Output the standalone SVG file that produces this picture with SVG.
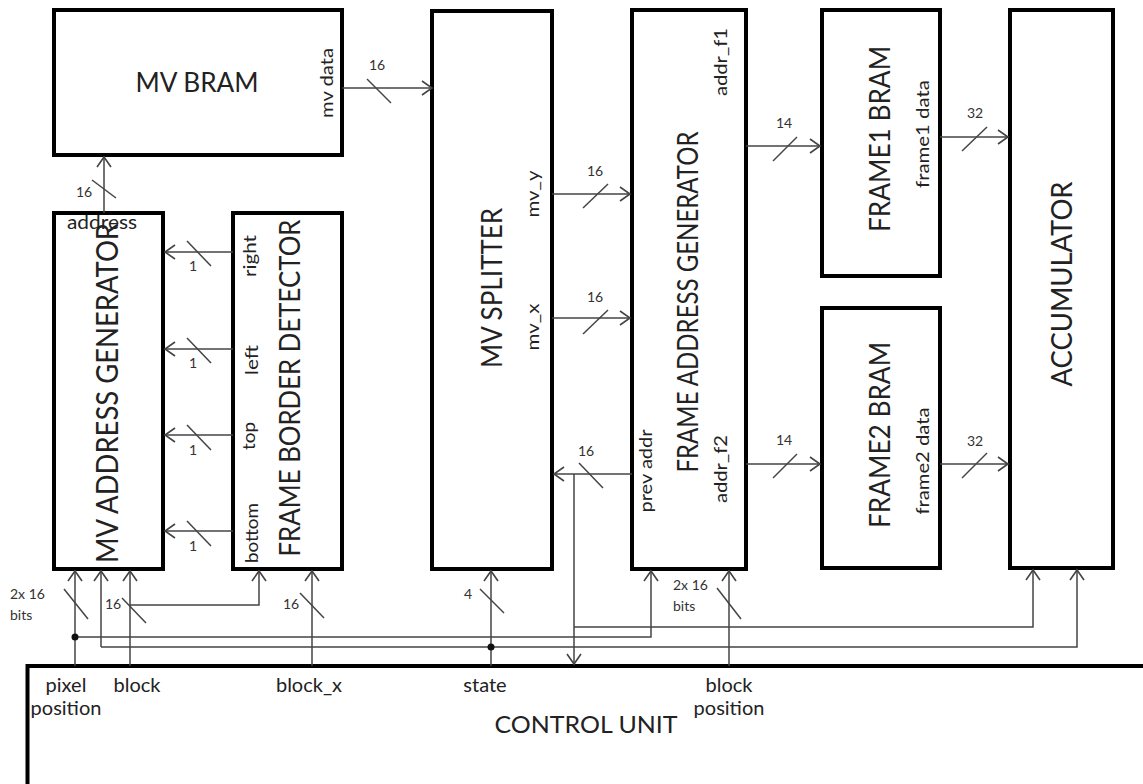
<svg xmlns="http://www.w3.org/2000/svg" width="1143" height="784" viewBox="0 0 1143 784">
<defs>
<marker id="arr" markerUnits="userSpaceOnUse" markerWidth="14" markerHeight="16" refX="11" refY="7" orient="auto" overflow="visible">
<path d="M1,0 L11,7 L1,14" fill="none" stroke="#444" stroke-width="1.6"/>
</marker>
</defs>
<style>
.box{fill:#fff;stroke:#000;stroke-width:4}
.c{fill:none;stroke:#444;stroke-width:1.5}
.s{stroke:#444;stroke-width:1.5}
.t{font-family:Lato,"Liberation Sans",Arial,sans-serif;fill:#222}
.big{font-size:28px}
.lbl{font-size:18px}
.n{font-family:Lato,"Liberation Sans",Arial,sans-serif;font-size:14px;fill:#333}
.m{text-anchor:middle}
</style>
<rect width="1143" height="784" fill="#fff"/>

<g id="mv-bram">
<rect class="box" x="54" y="10" width="288" height="145"/>
<text class="t m" x="197" y="92" font-size="26" textLength="123" lengthAdjust="spacingAndGlyphs">MV BRAM</text>
<text class="t m lbl" transform="translate(333,83) rotate(-90)" font-size="17" textLength="70" lengthAdjust="spacingAndGlyphs">mv data</text>
</g>

<g id="mv-address-generator">
<rect class="box" x="54" y="213" width="109" height="356"/>
<text class="t m" transform="translate(118,393) rotate(-90)" font-size="31" textLength="340" lengthAdjust="spacingAndGlyphs">MV ADDRESS GENERATOR</text>
<text class="t" x="67" y="229" font-size="19" textLength="70" lengthAdjust="spacingAndGlyphs">address</text>
</g>

<g id="frame-border-detector">
<rect class="box" x="233" y="213" width="109" height="356"/>
<text class="t m big" transform="translate(300,388) rotate(-90)" textLength="337" lengthAdjust="spacingAndGlyphs">FRAME BORDER DETECTOR</text>
<text class="t m lbl" transform="translate(256,256) rotate(-90)" textLength="42" lengthAdjust="spacingAndGlyphs">right</text>
<text class="t m lbl" transform="translate(258,360) rotate(-90)" textLength="30" lengthAdjust="spacingAndGlyphs">left</text>
<text class="t m lbl" transform="translate(255,436) rotate(-90)" textLength="28" lengthAdjust="spacingAndGlyphs">top</text>
<text class="t m lbl" transform="translate(258,533) rotate(-90)" textLength="60" lengthAdjust="spacingAndGlyphs">bottom</text>
</g>

<g id="mv-splitter">
<rect class="box" x="432" y="11" width="120" height="558"/>
<text class="t m big" transform="translate(502,288) rotate(-90)" textLength="160" lengthAdjust="spacingAndGlyphs">MV SPLITTER</text>
<text class="t m lbl" transform="translate(539,194) rotate(-90)" textLength="47" lengthAdjust="spacingAndGlyphs">mv_y</text>
<text class="t m lbl" transform="translate(539,327) rotate(-90)" textLength="47" lengthAdjust="spacingAndGlyphs">mv_x</text>
</g>

<g id="frame-address-generator">
<rect class="box" x="632" y="10" width="114" height="559"/>
<text class="t m big" transform="translate(698,302) rotate(-90)" textLength="341" lengthAdjust="spacingAndGlyphs">FRAME ADDRESS GENERATOR</text>
<text class="t m lbl" transform="translate(652,471) rotate(-90)" textLength="83" lengthAdjust="spacingAndGlyphs">prev addr</text>
<text class="t m lbl" transform="translate(727,62) rotate(-90)" textLength="68" lengthAdjust="spacingAndGlyphs">addr_f1</text>
<text class="t m lbl" transform="translate(727,469) rotate(-90)" textLength="68" lengthAdjust="spacingAndGlyphs">addr_f2</text>
</g>

<g id="frame1-bram">
<rect class="box" x="822" y="10" width="118" height="266"/>
<text class="t m big" transform="translate(890,139) rotate(-90)" textLength="186" lengthAdjust="spacingAndGlyphs">FRAME1 BRAM</text>
<text class="t m lbl" transform="translate(929,134) rotate(-90)" textLength="108" lengthAdjust="spacingAndGlyphs">frame1 data</text>
</g>

<g id="frame2-bram">
<rect class="box" x="822" y="308" width="118" height="260"/>
<text class="t m big" transform="translate(890,435) rotate(-90)" textLength="186" lengthAdjust="spacingAndGlyphs">FRAME2 BRAM</text>
<text class="t m lbl" transform="translate(929,461) rotate(-90)" textLength="107" lengthAdjust="spacingAndGlyphs">frame2 data</text>
</g>

<g id="accumulator">
<rect class="box" x="1010" y="10" width="103" height="558"/>
<text class="t m big" transform="translate(1072,284) rotate(-90)" textLength="205" lengthAdjust="spacingAndGlyphs">ACCUMULATOR</text>
</g>

<g id="control-unit">
<path class="box" d="M27.5,790 V666 H1150" fill="none"/>
<text class="t m" x="586" y="733" font-size="24" textLength="183" lengthAdjust="spacingAndGlyphs">CONTROL UNIT</text>
<text class="t m" x="66" y="692" font-size="20">pixel</text>
<text class="t m" x="66" y="715" font-size="20">position</text>
<text class="t m" x="137" y="692" font-size="20">block</text>
<text class="t m" x="309" y="692" font-size="20">block_x</text>
<text class="t m" x="485" y="692" font-size="20">state</text>
<text class="t m" x="729" y="692" font-size="20">block</text>
<text class="t m" x="729" y="715" font-size="20">position</text>
</g>

<g id="connectors">
<!-- mv data -->
<path class="c" d="M342,88 H432" marker-end="url(#arr)"/>
<line class="s" x1="367" y1="79" x2="391" y2="103"/>
<text class="n m" x="377" y="70">16</text>
<!-- address -->
<path class="c" d="M104,213 V157" marker-end="url(#arr)"/>
<line class="s" x1="92" y1="180" x2="116" y2="198"/>
<text class="n m" x="84" y="197">16</text>
<!-- border signals -->
<path class="c" d="M233,252 H165" marker-end="url(#arr)"/>
<line class="s" x1="187" y1="241" x2="211" y2="266"/>
<text class="n m" x="193" y="271">1</text>
<path class="c" d="M233,349 H165" marker-end="url(#arr)"/>
<line class="s" x1="187" y1="338" x2="211" y2="363"/>
<text class="n m" x="193" y="368">1</text>
<path class="c" d="M233,435 H165" marker-end="url(#arr)"/>
<line class="s" x1="187" y1="425" x2="211" y2="450"/>
<text class="n m" x="193" y="455">1</text>
<path class="c" d="M233,531 H165" marker-end="url(#arr)"/>
<line class="s" x1="187" y1="521" x2="211" y2="546"/>
<text class="n m" x="193" y="551">1</text>
<!-- mv_y / mv_x -->
<path class="c" d="M552,194 H630" marker-end="url(#arr)"/>
<line class="s" x1="583" y1="208" x2="608" y2="184"/>
<text class="n m" x="595" y="176">16</text>
<path class="c" d="M552,318 H630" marker-end="url(#arr)"/>
<line class="s" x1="583" y1="334" x2="608" y2="310"/>
<text class="n m" x="595" y="302">16</text>
<!-- prev addr -->
<path class="c" d="M632,474 H554" marker-end="url(#arr)"/>
<path class="c" d="M574,474 V664" marker-end="url(#arr)"/>
<path class="c" d="M574,627 H1033 V570" marker-end="url(#arr)"/>
<line class="s" x1="579" y1="463" x2="603" y2="488"/>
<text class="n m" x="586" y="456">16</text>
<!-- addr_f1 / addr_f2 -->
<path class="c" d="M746,146 H820" marker-end="url(#arr)"/>
<line class="s" x1="773" y1="161" x2="797" y2="137"/>
<text class="n m" x="784" y="128">14</text>
<path class="c" d="M746,464 H820" marker-end="url(#arr)"/>
<line class="s" x1="773" y1="478" x2="797" y2="454"/>
<text class="n m" x="784" y="445">14</text>
<!-- frame data -->
<path class="c" d="M940,137 H1008" marker-end="url(#arr)"/>
<line class="s" x1="962" y1="151" x2="987" y2="127"/>
<text class="n m" x="975" y="118">32</text>
<path class="c" d="M940,464 H1008" marker-end="url(#arr)"/>
<line class="s" x1="962" y1="478" x2="987" y2="453"/>
<text class="n m" x="975" y="446">32</text>
<!-- pixel position -->
<path class="c" d="M75,666 V571" marker-end="url(#arr)"/>
<path class="c" d="M75,637 H651 V571" marker-end="url(#arr)"/>
<circle cx="75" cy="637" r="3.5" fill="#111"/>
<line class="s" x1="64" y1="589" x2="88" y2="619"/>
<text class="n" x="10" y="599">2x 16</text>
<text class="n" x="10" y="620">bits</text>
<!-- block -->
<path class="c" d="M130,666 V571" marker-end="url(#arr)"/>
<path class="c" d="M130,605 H259 V571" marker-end="url(#arr)"/>
<line class="s" x1="122" y1="598" x2="146" y2="623"/>
<text class="n m" x="113" y="609">16</text>
<!-- state bus -->
<path class="c" d="M101,647 V571" marker-end="url(#arr)"/>
<path class="c" d="M101,647 H1077 V570" marker-end="url(#arr)"/>
<path class="c" d="M491,666 V571" marker-end="url(#arr)"/>
<circle cx="491" cy="647" r="3.5" fill="#111"/>
<line class="s" x1="480" y1="589" x2="504" y2="613"/>
<text class="n m" x="468" y="599">4</text>
<!-- block_x -->
<path class="c" d="M312,666 V571" marker-end="url(#arr)"/>
<line class="s" x1="300" y1="593" x2="324" y2="618"/>
<text class="n m" x="291" y="609">16</text>
<!-- block position -->
<path class="c" d="M729,666 V571" marker-end="url(#arr)"/>
<line class="s" x1="717" y1="588" x2="741" y2="619"/>
<text class="n" x="673" y="590">2x 16</text>
<text class="n" x="673" y="611">bits</text>
</g>
</svg>
